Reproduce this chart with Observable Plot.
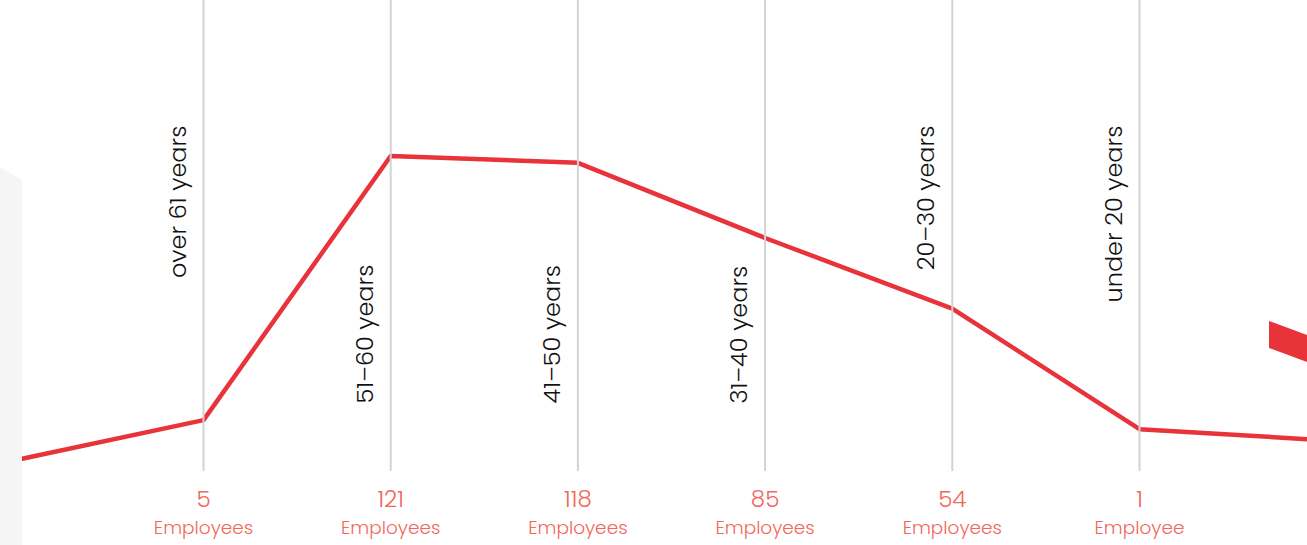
<!DOCTYPE html>
<html>
<head>
<meta charset="utf-8">
<script src="https://cdn.jsdelivr.net/npm/d3@7"></script>
<script src="https://cdn.jsdelivr.net/npm/@observablehq/plot@0.6"></script>
<style>
  html, body { margin: 0; padding: 0; background: #fff; }
  #wrap { position: relative; width: 1307px; height: 545px; overflow: hidden; }
  #wrap svg { position: absolute; left: 0; top: 0; }
  .deco { position: absolute; }
</style>
</head>
<body>
<div id="wrap"></div>
<script>
// Age groups (left to right), employee counts and unit labels
const ageGroups = ["over 61 years", "51–60 years", "41–50 years", "31–40 years", "20–30 years", "under 20 years"];
const employees = [5, 121, 118, 85, 54, 1];
const units = ["Employees", "Employees", "Employees", "Employees", "Employees", "Employee"];
// which labels sit above (true) or below (false) the line
const labelAbove = [true, false, false, false, true, true];
// the line continues off both edges of the picture
const leadIn = -12.5;
const leadOut = -3.9;

const rows = ageGroups.map((g, i) => ({i, group: g, value: employees[i], unit: units[i], above: labelAbove[i]}));
const lineData = [{i: -1, value: leadIn}, ...rows, {i: ageGroups.length, value: leadOut}];

const FONT = "Poppins, 'Open Sans', sans-serif";
const RED = "#e8333a";
const SALMON = "#f2685c";

const chart = Plot.plot({
  width: 1307,
  height: 545,
  marginTop: 0,
  marginBottom: 74,
  marginLeft: 0,
  marginRight: 0,
  style: {fontFamily: FONT, background: "transparent", overflow: "visible"},
  x: {type: "linear", domain: [0, ageGroups.length - 1], range: [203, 1139], axis: null},
  y: {type: "linear", domain: [0, 121], range: [431, 155.5], axis: null},
  marks: [
    Plot.line(lineData, {x: "i", y: "value", stroke: RED, strokeWidth: 4.5, clip: true}),
    Plot.ruleX(rows, {x: "i", stroke: "#d3d3d3", strokeWidth: 2}),
    Plot.text(rows.filter(d => d.above), {
      x: "i", text: "group", frameAnchor: "top", dy: 125, dx: -18,
      rotate: -90, textAnchor: "end", lineAnchor: "bottom",
      fontSize: 24, fontWeight: 300, fill: "#111"
    }),
    Plot.text(rows.filter(d => !d.above), {
      x: "i", text: "group", frameAnchor: "top", dy: 403, dx: -18,
      rotate: -90, textAnchor: "start", lineAnchor: "bottom",
      fontSize: 24, fontWeight: 300, fill: "#111"
    }),
    Plot.text(rows, {
      x: "i", text: d => String(d.value), frameAnchor: "top", dy: 499,
      lineAnchor: "middle", fontSize: 23, fontWeight: 300, fill: SALMON
    }),
    Plot.text(rows, {
      x: "i", text: "unit", frameAnchor: "top", dy: 528,
      lineAnchor: "middle", fontSize: 18.5, fontWeight: 300, fill: SALMON
    })
  ]
});

const wrap = document.getElementById("wrap");
wrap.appendChild(chart);

// decorative background panel (left) and red fragment (right)
const panel = document.createElement("div");
panel.className = "deco";
Object.assign(panel.style, {left: "0px", top: "160px", width: "22px", height: "385px", background: "#f5f5f5",
  clipPath: "polygon(0px 7px, 22px 20px, 22px 385px, 0px 385px)"});
wrap.appendChild(panel);

const frag = document.createElement("div");
frag.className = "deco";
Object.assign(frag.style, {left: "1269px", top: "321px", width: "38px", height: "41px", background: RED,
  clipPath: "polygon(0px 0px, 38px 14px, 38px 41px, 0px 27px)"});
wrap.appendChild(frag);
</script>
</body>
</html>
